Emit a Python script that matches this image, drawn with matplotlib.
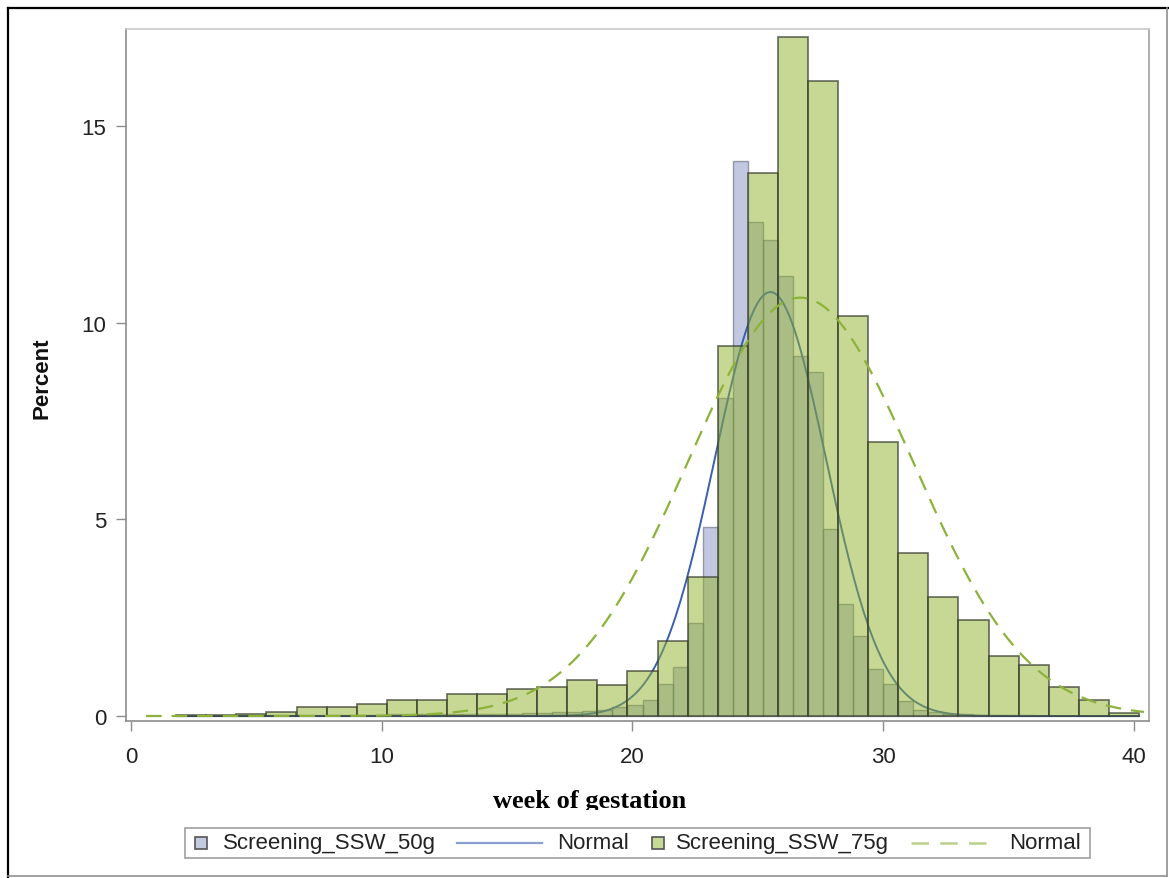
import numpy as np
import matplotlib
matplotlib.use("Agg")
import matplotlib.pyplot as plt
from matplotlib.lines import Line2D
from matplotlib.patches import Rectangle
from matplotlib.transforms import Bbox, TransformedBbox

# percent of patients per screening week bin
# 50g test: bins of 0.6 weeks, 1.8 .. 40.2
bin_w_50 = 0.6
start_50 = 1.8
pct_50 = [0.01, 0.0, 0.01, 0.01, 0.02, 0.01, 0.02, 0.02, 0.02, 0.03, 0.02,
          0.03, 0.03, 0.03, 0.04, 0.03, 0.04, 0.04, 0.05, 0.04, 0.05, 0.05,
          0.06, 0.07, 0.08, 0.09,
          0.11, 0.13, 0.15, 0.22, 0.28, 0.41, 0.81, 1.24, 2.36, 4.80, 8.08,
          14.12, 12.55, 12.10, 11.20, 9.16, 8.75, 4.75, 2.85, 2.03, 1.20,
          0.81, 0.39, 0.16, 0.09, 0.05, 0.04,
          0.03, 0.02, 0.02, 0.02, 0.01, 0.01, 0.01, 0.01, 0.0, 0.01, 0.0]

# 75g test: bins of 1.2 weeks, 1.8 .. 40.2
bin_w_75 = 1.2
start_75 = 1.8
pct_75 = [0.02, 0.02, 0.06, 0.09, 0.23, 0.23, 0.31, 0.41, 0.41, 0.55, 0.55,
          0.69, 0.74, 0.92, 0.78, 1.15, 1.90, 3.53, 9.42, 13.80, 17.26,
          16.15, 10.16, 6.97, 4.14, 3.03, 2.44, 1.52, 1.29, 0.73, 0.40, 0.07]

# fitted normal parameters (weeks)
mu_50, sd_50 = 25.5, 2.22
mu_75, sd_75 = 26.7, 4.50

c50_face = (111/255, 126/255, 179/255, 0.42)
c50_edge = (0.33, 0.34, 0.40, 0.55)
c75_face = (145/255, 179/255, 45/255, 0.50)
c75_edge = (0.22, 0.24, 0.18, 0.75)
c50_line = "#3a5fb0"
c75_line = "#8cb23a"

W, H = 1169, 879
def fx(px):
    return px / W
def fy(py):
    return 1 - py / H

fig = plt.figure(figsize=(W / 100, H / 100), dpi=100)
ax = fig.add_axes([fx(126), fy(722), (1149 - 126) / W, (722 - 30) / H])

x50 = start_50 + bin_w_50 * (np.arange(len(pct_50)) + 0.5)
x75 = start_75 + bin_w_75 * (np.arange(len(pct_75)) + 0.5)

ax.bar(x50, pct_50, width=bin_w_50, color=c50_face, edgecolor=c50_edge,
       linewidth=1.0, zorder=2)

def normal_pct(x, mu, sd, w):
    return 100 * w / (sd * np.sqrt(2 * np.pi)) * np.exp(-0.5 * ((x - mu) / sd) ** 2)

xs50 = np.linspace(1.8, 40.2, 400)
ax.plot(xs50, normal_pct(xs50, mu_50, sd_50, bin_w_50), color=c50_line,
        lw=1.4, zorder=3)

ax.bar(x75, pct_75, width=bin_w_75, color=c75_face, edgecolor=c75_edge,
       linewidth=1.2, zorder=4)

xs75 = np.linspace(0.6, 40.4, 400)
ax.plot(xs75, normal_pct(xs75, mu_75, sd_75, bin_w_75), color=c75_line,
        lw=1.6, dashes=(7, 4.5), zorder=5)

ax.set_xlim(-0.2, 40.6)
ax.set_ylim(-0.127, 17.47)
ax.set_xticks([0, 10, 20, 30, 40])
ax.set_yticks([0, 5, 10, 15])
ax.tick_params(axis="both", direction="out", length=7, width=1,
               color="#8c8c8c", labelcolor="#222222", labelsize=16)
ax.tick_params(axis="x", pad=11)
ax.tick_params(axis="y", pad=7)
for lab in ax.get_xticklabels() + ax.get_yticklabels():
    lab.set_family("Liberation Sans")
ax.spines["left"].set_color("#8c8c8c")
ax.spines["bottom"].set_color("#8c8c8c")
ax.spines["top"].set_color("#c8c8c8")
ax.spines["right"].set_color("#a0a0a0")
for s in ax.spines.values():
    s.set_linewidth(1.2)

fig.text(fx(42), fy(378), "Percent", rotation=90, ha="center", va="center",
         family="Liberation Sans", weight="bold", size=16, color="#111111")

# x label, bottom of descenders cut off above the legend
xl = fig.text(fx(590), fy(808), "week of gestation", ha="center",
              va="baseline", family="Liberation Serif", weight="bold",
              size=19, color="black")
xl.set_clip_box(TransformedBbox(Bbox([[0, fy(811)], [1, 1]]), fig.transFigure))
xl.set_clip_on(True)

# legend row
fig.add_artist(Rectangle((fx(185), fy(859)), fx(1090) - fx(185),
                         fy(829) - fy(859), transform=fig.transFigure,
                         facecolor="white", edgecolor="#a0a0a0", lw=1.2))
ly = 844
legend_font = dict(family="Liberation Sans", size=16, color="#222222",
                   va="center", ha="left")
fig.add_artist(Rectangle((fx(195), fy(850)), 12 / W, 12 / H,
                         transform=fig.transFigure,
                         facecolor=(195/255, 202/255, 226/255),
                         edgecolor="#555555", lw=1.2))
fig.text(fx(223), fy(ly), "Screening_SSW_50g", **legend_font)
fig.add_artist(Line2D([fx(457), fx(542)], [fy(ly), fy(ly)],
                      transform=fig.transFigure, color=c50_line, alpha=0.6,
                      lw=1.6))
fig.text(fx(557), fy(ly), "Normal", **legend_font)
fig.add_artist(Rectangle((fx(652), fy(850)), 12 / W, 12 / H,
                         transform=fig.transFigure,
                         facecolor=(200/255, 217/255, 150/255),
                         edgecolor="#555555", lw=1.2))
fig.text(fx(676), fy(ly), "Screening_SSW_75g", **legend_font)
fig.add_artist(Line2D([fx(911), fx(997)], [fy(ly), fy(ly)],
                      transform=fig.transFigure, color=c75_line, alpha=0.6,
                      lw=1.8, dashes=(7, 4.5)))
fig.text(fx(1009), fy(ly), "Normal", **legend_font)

# outer border of the graph image
fig.add_artist(Line2D([fx(8), fx(8)], [fy(9), fy(879)],
                      transform=fig.transFigure, color="black", lw=1.6))
fig.add_artist(Line2D([fx(8), fx(1169)], [fy(9), fy(9)],
                      transform=fig.transFigure, color="black", lw=1.6))
fig.add_artist(Line2D([fx(1167), fx(1167)], [fy(9), fy(877)],
                      transform=fig.transFigure, color="#909090", lw=1.2))
fig.add_artist(Line2D([fx(8), fx(1167)], [fy(877), fy(877)],
                      transform=fig.transFigure, color="#909090", lw=1.2))

fig.savefig("out.png", dpi=100, facecolor="white")
